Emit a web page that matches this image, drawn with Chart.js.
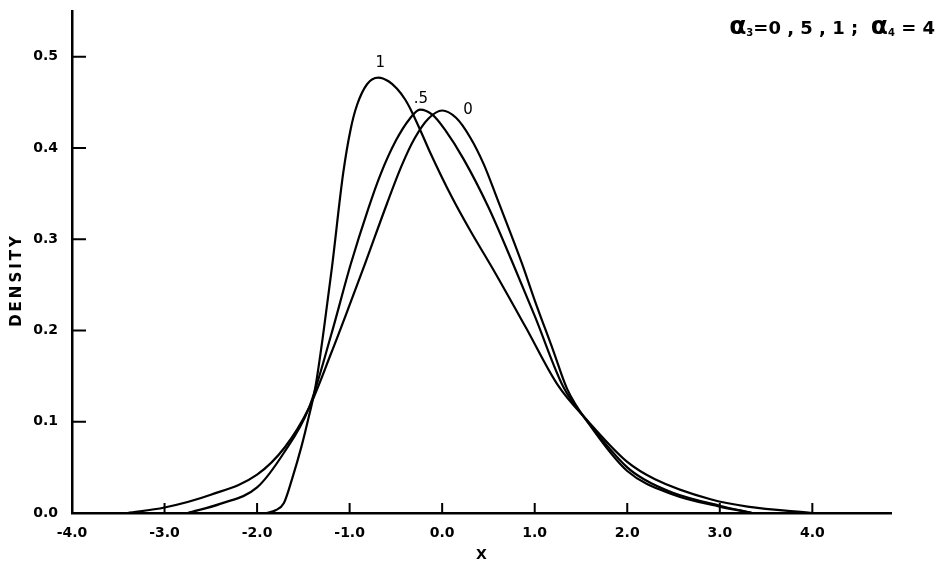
<!DOCTYPE html>
<html>
<head>
<meta charset="utf-8">
<script src="https://cdn.jsdelivr.net/npm/chart.js@4.4.1/dist/chart.umd.min.js"></script>
<style>
  html, body { margin: 0; padding: 0; background: #fff; }
  #wrap { position: relative; width: 945px; height: 566px; }
  #note { position: absolute; right: 10px; top: 11px; font: bold 18px "DejaVu Sans", sans-serif; white-space: pre; color: #000; }
  #note .a { font-size: 25px; }
  #note sub { font-size: 10px; vertical-align: -2px; }
</style>
</head>
<body>
<div id="wrap">
  <canvas id="density" width="945" height="566"></canvas>
  <div id="note"><span class="a">α</span><sub>3</sub>=0 , 5 , 1 ;  <span class="a">α</span><sub>4</sub> = 4</div>
</div>
<script>
/* Densities for alpha3 = 0, .5, 1 with alpha4 = 4. */

const xTickValues = [-4, -3, -2, -1, 0, 1, 2, 3, 4];
const yTickValues = [0, 0.1, 0.2, 0.3, 0.4, 0.5];

// alpha3 = 0 (symmetric)
const xAlpha0 = [-3.4, -3.0, -2.5, -2.0, -1.7, -1.44, -1.2, -1.0, -0.83, -0.6, -0.44, -0.3, -0.15, 0.0,
  0.15, 0.3, 0.45, 0.6, 0.86, 1.0, 1.2, 1.35, 1.59, 2.0, 2.5, 3.0, 3.35];
const densityAlpha0 = [0.0, 0.006, 0.02, 0.042, 0.072, 0.115, 0.175, 0.228, 0.274, 0.338, 0.38, 0.41, 0.432, 0.441,
  0.433, 0.412, 0.382, 0.343, 0.274, 0.233, 0.178, 0.136, 0.097, 0.046, 0.02, 0.007, 0.0];

// alpha3 = .5
const xAlpha05 = [-2.75, -2.4, -2.0, -1.71, -1.44, -1.2, -0.99, -0.8, -0.67, -0.5, -0.35, -0.24, -0.1, 0.03,
  0.23, 0.5, 0.77, 1.0, 1.31, 1.59, 2.0, 2.18, 2.5, 3.0, 3.35];
const densityAlpha05 = [0.0, 0.01, 0.028, 0.066, 0.115, 0.195, 0.272, 0.333, 0.37, 0.408, 0.432, 0.442, 0.436, 0.42,
  0.388, 0.335, 0.272, 0.216, 0.138, 0.098, 0.05, 0.037, 0.022, 0.008, 0.0];

// alpha3 = 1
const xAlpha1 = [-1.9, -1.8, -1.71, -1.62, -1.52, -1.44, -1.37, -1.28, -1.19, -1.07, -0.99, -0.92, -0.81, -0.69,
  -0.58, -0.49, -0.4, -0.33, -0.23, -0.13, 0.1, 0.3, 0.55, 0.9, 1.25, 1.59, 2.0, 2.3, 2.9, 3.3, 4.0];
const densityAlpha1 = [0.0, 0.003, 0.011, 0.038, 0.073, 0.106, 0.138, 0.2, 0.27, 0.372, 0.42, 0.447, 0.47, 0.477,
  0.473, 0.465, 0.453, 0.44, 0.418, 0.395, 0.347, 0.31, 0.267, 0.204, 0.14, 0.099, 0.056, 0.037, 0.015, 0.007, 0.0];

// curve tags, anchored in data units
const tagText = ["1", ".5", "0"];
const tagX = [-0.67, -0.23, 0.28];
const tagY = [0.493, 0.453, 0.441];

const FONT = '"DejaVu Sans", sans-serif';
const pts = (xs, ys) => xs.map((x, i) => ({ x, y: ys[i] }));

// tick marks point into the plot, as in the original
const inwardTicks = {
  id: "inwardTicks",
  afterDraw(chart) {
    const { ctx, chartArea: a, scales: { x, y } } = chart;
    ctx.save();
    ctx.strokeStyle = "#000"; ctx.lineWidth = 2;
    ctx.beginPath();
    x.ticks.forEach((t) => { const px = x.getPixelForValue(t.value); ctx.moveTo(px, a.bottom); ctx.lineTo(px, a.bottom - 10); });
    y.ticks.forEach((t) => { const py = y.getPixelForValue(t.value); ctx.moveTo(a.left, py); ctx.lineTo(a.left + 14, py); });
    ctx.stroke();
    ctx.restore();
  },
};

const curveTags = {
  id: "curveTags",
  afterDraw(chart) {
    const { ctx, scales: { x, y } } = chart;
    ctx.save();
    ctx.fillStyle = "#000"; ctx.font = "15px " + FONT;
    ctx.textAlign = "center"; ctx.textBaseline = "middle";
    tagText.forEach((t, i) => ctx.fillText(t, x.getPixelForValue(tagX[i]), y.getPixelForValue(tagY[i])));
    ctx.restore();
  },
};

const yTitle = {
  id: "yTitle",
  afterDraw(chart) {
    const { ctx } = chart;
    ctx.save();
    ctx.translate(17, 280);
    ctx.rotate(-Math.PI / 2);
    ctx.fillStyle = "#000"; ctx.font = "bold 15px " + FONT;
    if ("letterSpacing" in ctx) ctx.letterSpacing = "3px";
    ctx.textAlign = "center"; ctx.textBaseline = "middle";
    ctx.fillText("DENSITY", 0, 0);
    ctx.restore();
  },
};

const line = (data) => ({ data, borderColor: "#000", borderWidth: 2.2, pointRadius: 0, cubicInterpolationMode: "monotone", fill: false });

new Chart(document.getElementById("density"), {
  type: "line",
  data: {
    datasets: [
      { label: "0", ...line(pts(xAlpha0, densityAlpha0)) },
      { label: ".5", ...line(pts(xAlpha05, densityAlpha05)) },
      { label: "1", ...line(pts(xAlpha1, densityAlpha1)) },
    ],
  },
  options: {
    responsive: false,
    animation: false,
    layout: { padding: { top: 11, right: 54, left: 0, bottom: 0 } },
    plugins: { legend: { display: false }, tooltip: { enabled: false } },
    scales: {
      x: {
        type: "linear", min: -4, max: 4.85,
        grid: { display: false, drawTicks: false },
        border: { color: "#000", width: 2.5 },
        ticks: { color: "#000", padding: 12, font: { family: FONT, size: 14, weight: "bold" }, callback: (v) => v.toFixed(1) },
        afterBuildTicks: (s) => { s.ticks = xTickValues.map((v) => ({ value: v })); },
        afterFit: (s) => { s.height = 53; s.paddingLeft = 0; s.paddingRight = 0; },
        title: { display: true, text: "X", color: "#000", font: { family: FONT, size: 14, weight: "bold" }, padding: { top: 0, bottom: 2 } },
      },
      y: {
        type: "linear", min: 0, max: 0.55,
        grid: { display: false, drawTicks: false },
        border: { color: "#000", width: 2.5 },
        ticks: { color: "#000", padding: 14, font: { family: FONT, size: 14, weight: "bold" }, callback: (v) => v.toFixed(1) },
        afterBuildTicks: (s) => { s.ticks = yTickValues.map((v) => ({ value: v })); },
        afterFit: (s) => { s.width = 72; s.paddingTop = 0; s.paddingBottom = 0; },
      },
    },
  },
  plugins: [inwardTicks, curveTags, yTitle],
});
</script>
</body>
</html>
